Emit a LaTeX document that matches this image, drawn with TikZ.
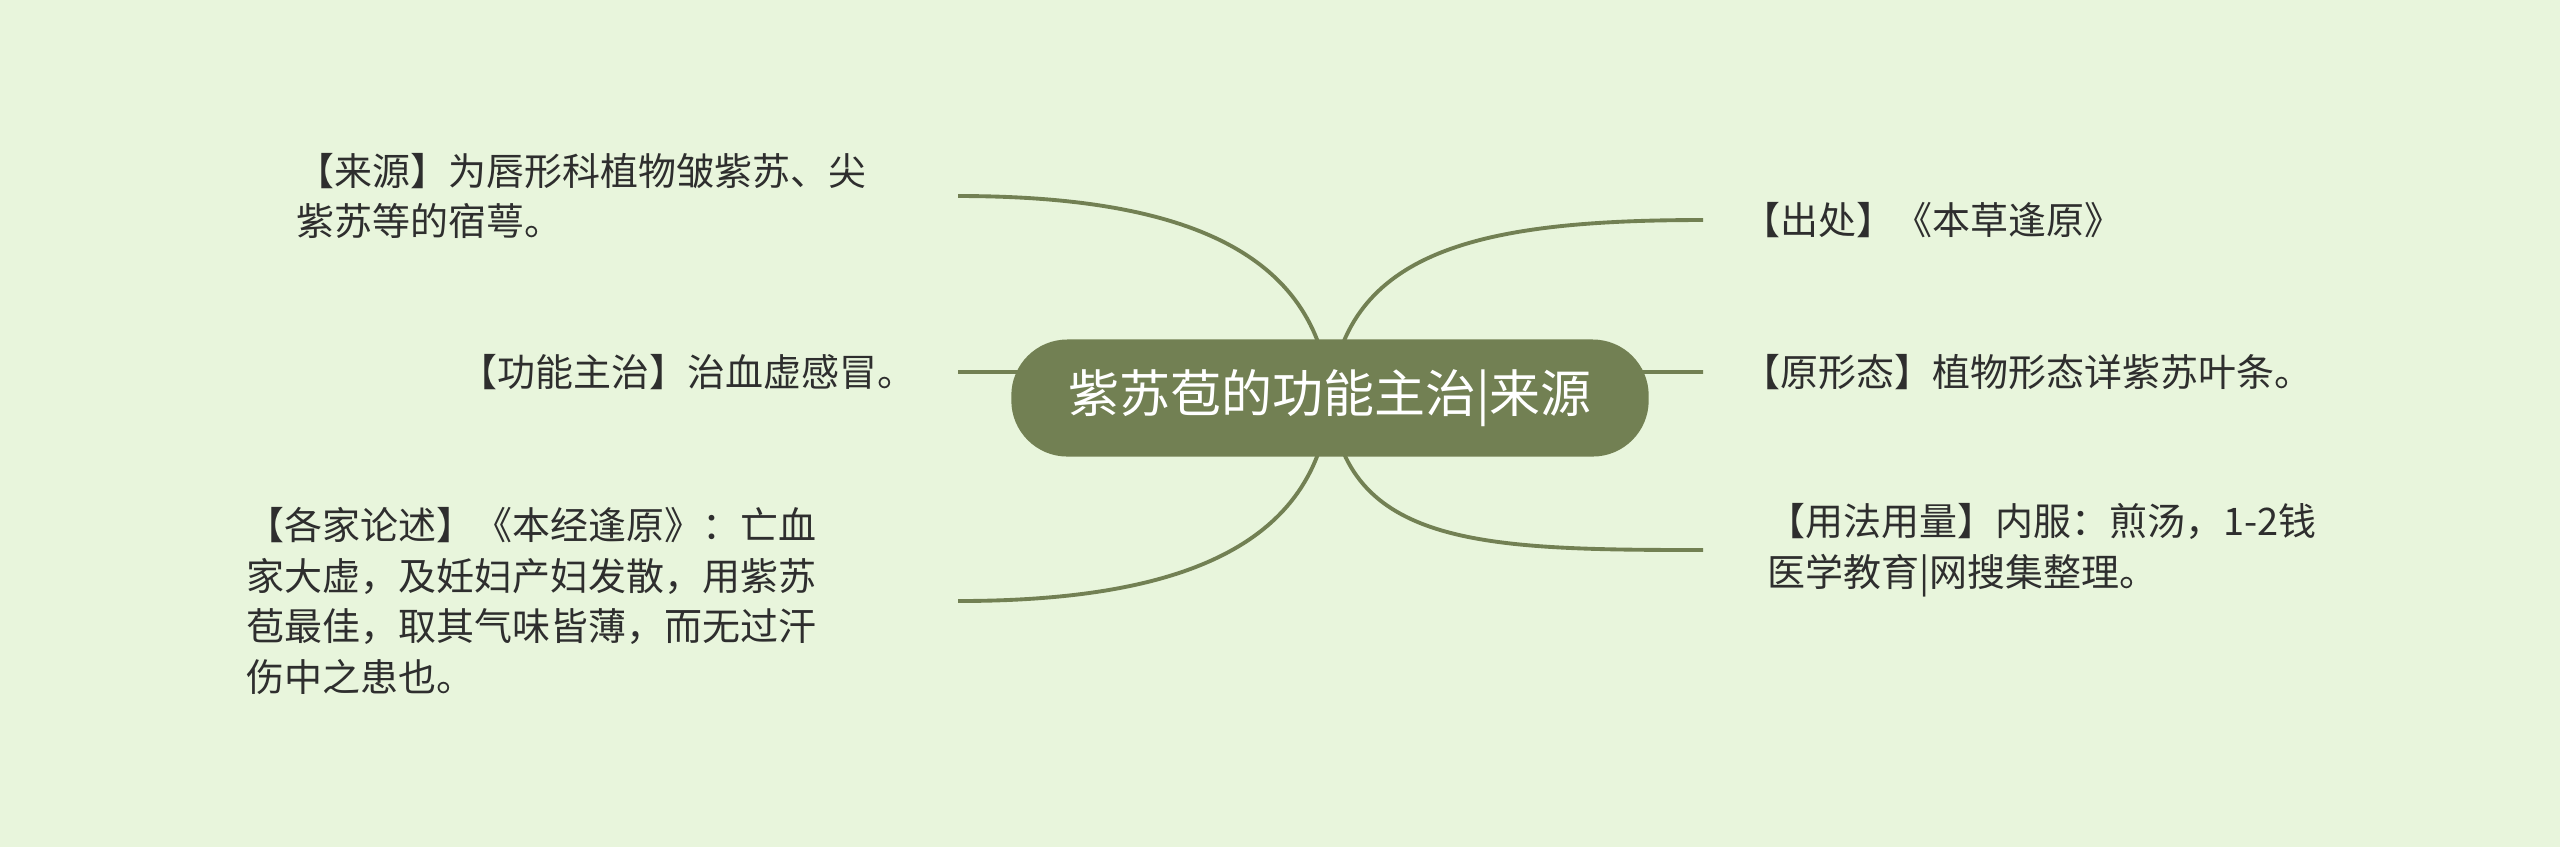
\documentclass[tikz,border=0pt]{standalone}
\usepackage{fontspec}
\setmainfont{Noto Sans CJK SC}
\usetikzlibrary{positioning,backgrounds}
\definecolor{bgcol}{HTML}{E8F5DC}
\definecolor{olive}{HTML}{728053}
\definecolor{ink}{HTML}{2E2E2E}
\tikzset{
    %Define style for the central topic
    topic/.style={
           rectangle,
           rounded corners=0.56cm,
           fill=olive,
           text=white,
           minimum width=6.37cm,
           minimum height=1.17cm,
           font=\fontsize{14.5}{17}\selectfont,
           text centered},
    %Define style for the branch texts
    leaf/.style={
           inner sep=0pt,
           align=left,
           text=ink,
           font=\fontsize{10.8}{14.4}\selectfont},
    % Define branch line style
    branch/.style={
           draw=olive,
           line width=1.1pt}
}

\begin{document}
\begin{tikzpicture}[x=0.01cm,y=-0.01cm]
\useasboundingbox (0,0) rectangle (2560,847);
\node[topic](root) at (1330,398){紫苏苞的功能主治|来源};
% free ends of the branches
\coordinate (l1) at (958,196);
\coordinate (l2) at (958,372);
\coordinate (l3) at (958,601);
\coordinate (r1) at (1703,220);
\coordinate (r2) at (1703,372);
\coordinate (r3) at (1703,550);
% left side
\node[leaf, left=0.91cm of l1](src){【来源】为唇形科植物皱紫苏、尖\\紫苏等的宿萼。};
\node[leaf, left=0.42cm of l2](func){【功能主治】治血虚感冒。};
\node[leaf, left=1.41cm of l3](views){【各家论述】《本经逢原》：亡血\\家大虚，及妊妇产妇发散，用紫苏\\苞最佳，取其气味皆薄，而无过汗\\伤中之患也。};
% right side
\node[leaf, right=0.39cm of r1](orig){【出处】《本草逢原》};
\node[leaf, right=0.39cm of r2](form){【原形态】植物形态详紫苏叶条。};
\node[leaf, right=0.64cm of r3](dose){【用法用量】内服：煎汤，1-2钱\\医学教育|网搜集整理。};
\begin{scope}[on background layer]
\fill[bgcol] (0,0) rectangle (2560,847);
\path[branch]
	(root.center) .. controls (1318,250) and (1180,196) .. (l1)
	(l2) -- (root.center |- l2)
	(root.center) .. controls (1318,546) and (1180,601) .. (l3)
	(root.center) .. controls (1345,250) and (1480,220) .. (r1)
	(root.center |- r2) -- (r2)
	(root.center) .. controls (1345,546) and (1480,550) .. (r3);
\end{scope}
\end{tikzpicture}
\end{document}
